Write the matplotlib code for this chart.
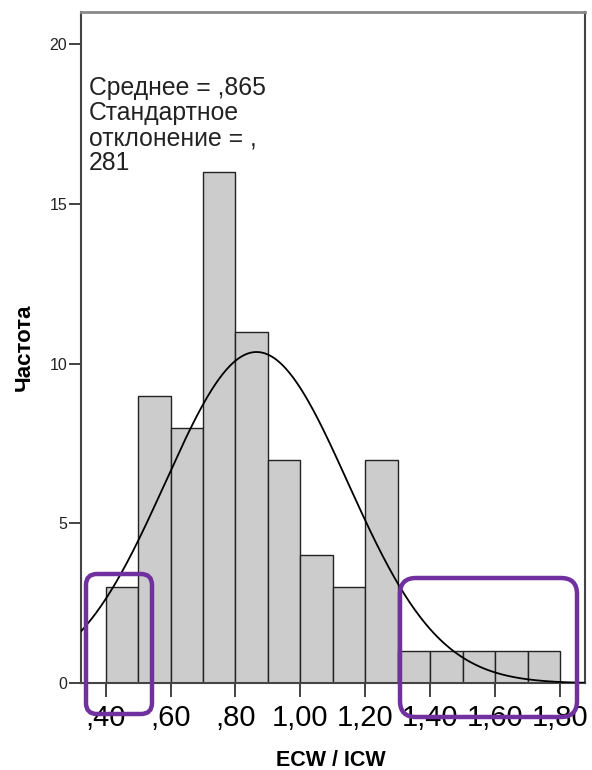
import numpy as np
import matplotlib
matplotlib.use("Agg")
import matplotlib.pyplot as plt
from matplotlib.patches import FancyBboxPatch

plt.rcParams['font.family'] = ['Liberation Sans', 'DejaVu Sans']

bord_gauche = [0.4, 0.5, 0.6, 0.7, 0.8, 0.9, 1.0, 1.1, 1.2, 1.3, 1.4, 1.5, 1.6, 1.7]
effectifs = [3, 9, 8, 16, 11, 7, 4, 3, 7, 1, 1, 1, 1, 1]
largeur = 0.1
moyenne = 0.865
ecart_type = 0.281
xticks = [0.4, 0.6, 0.8, 1.0, 1.2, 1.4, 1.6, 1.8]
xtick_labels = [',40', ',60', ',80', '1,00', '1,20', '1,40', '1,60', '1,80']
yticks = [0, 5, 10, 15, 20]
texte_stats = "Среднее = ,865\nСтандартное\nотклонение = ,\n281"

W, H = 592, 770
fig = plt.figure(figsize=(W / 100, H / 100), dpi=100)
ax = fig.add_axes([81 / W, (H - 683.3) / H, (585 - 81) / W, (683.3 - 12) / H])

ax.bar(bord_gauche, effectifs, width=largeur, align='edge',
       color='#cccccc', edgecolor='#222222', linewidth=1.0, zorder=2)

# courbe normale (effectif total * largeur de classe)
n = sum(effectifs)
xmin, xmax = 0.324, 1.877
xs = np.linspace(xmin, xmax, 400)
ys = n * largeur / (ecart_type * np.sqrt(2 * np.pi)) * np.exp(-0.5 * ((xs - moyenne) / ecart_type) ** 2)
ax.plot(xs, ys, color='black', linewidth=1.3, zorder=3)

ax.set_xlim(xmin, xmax)
ax.set_ylim(0, 21.0)
ax.set_xticks(xticks)
ax.set_xticklabels(xtick_labels, fontsize=21)
ax.set_yticks(yticks)
ax.set_yticklabels([str(v) for v in yticks], fontsize=11.5, color='#222222')
ax.tick_params(axis='x', direction='out', length=10, width=1.2, pad=5, color='#222222')
ax.tick_params(axis='y', direction='out', length=9, width=1.2, pad=1, color='#222222')

for cote in ['left', 'right', 'bottom']:
    ax.spines[cote].set_color('#444444')
    ax.spines[cote].set_linewidth(1.5)
ax.spines['top'].set_color('#8a8a8a')
ax.spines['top'].set_linewidth(2)

ax.set_ylabel("Частота", fontsize=16, fontweight='bold')
ax.yaxis.set_label_coords(-0.092, 0.5)
ax.set_xlabel("ECW / ICW", fontsize=15.5, fontweight='bold')
ax.xaxis.set_label_coords(0.496, -0.1)

ax.text(0.016, 0.905, texte_stats, transform=ax.transAxes, fontsize=17.8,
        va='top', ha='left', linespacing=1.06, color='#222222')

# cadres violets (annotations ajoutées sur l'image)
def cadre(x0, y0, x1, y1, r):
    p = FancyBboxPatch((x0 / W, (H - y1) / H), (x1 - x0) / W, (y1 - y0) / H,
                       boxstyle="round,pad=0,rounding_size=%f" % (r / W),
                       mutation_aspect=W / H, transform=fig.transFigure,
                       fill=False, edgecolor='#7030a0', linewidth=3.2, zorder=10)
    fig.patches.append(p)

cadre(86, 574, 152, 714, 11)
cadre(400, 578, 577, 717, 16)

fig.savefig("out.png", dpi=100)
